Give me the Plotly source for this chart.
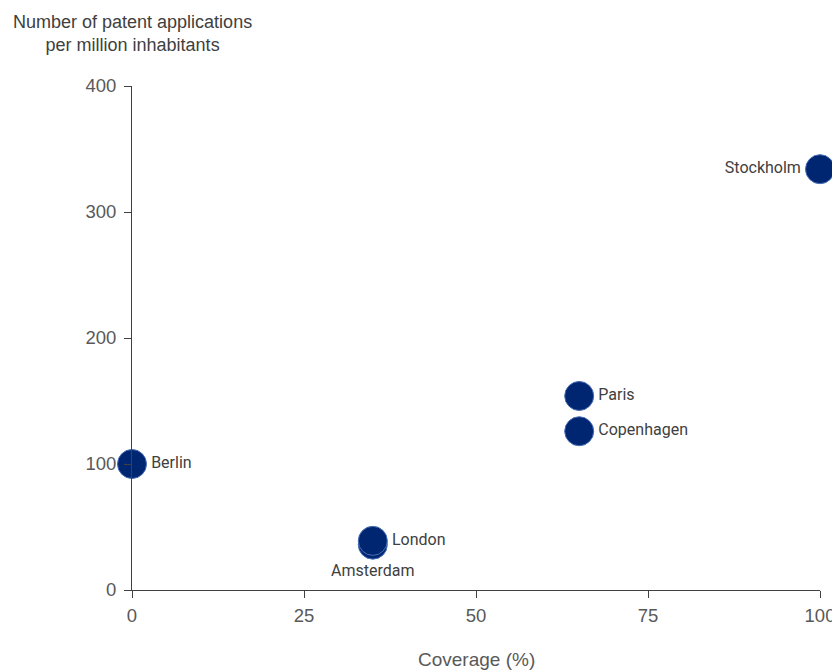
import plotly.graph_objects as go

cities = ["Berlin", "Amsterdam", "London", "Copenhagen", "Paris", "Stockholm"]
coverage = [0, 35, 35, 65, 65, 100]
patents = [100, 36, 39, 126, 154, 334]
label_pos = ["middle right", "bottom center", "middle right", "middle right", "middle right", "middle left"]
x_ticks = [0, 25, 50, 75, 100]
y_ticks = [0, 100, 200, 300, 400]

navy = "#002672"
tick_font = dict(family="Liberation Sans, Arial, sans-serif", size=18.5, color="#595959")

fig = go.Figure()
fig.add_trace(go.Scatter(
    x=coverage, y=patents, mode="markers+text", text=cities,
    textposition=label_pos,
    textfont=dict(family="Roboto, sans-serif", size=16, color="#404040"),
    marker=dict(size=29, color=navy, line=dict(color="#4a6fb5", width=1)),
    cliponaxis=False, showlegend=False,
))

fig.update_layout(
    width=832, height=664,
    margin=dict(l=124, r=20, t=78, b=82),
    plot_bgcolor="white", paper_bgcolor="white",
    xaxis=dict(range=[0, 100], tickvals=x_ticks, showgrid=False, zeroline=False,
               showline=True, linecolor="#404040", linewidth=1,
               ticks="outside", ticklen=7, tickcolor="#404040",
               tickfont=tick_font, automargin=False, ticklabelstandoff=2),
    yaxis=dict(range=[0, 400], tickvals=y_ticks, showgrid=False, zeroline=False,
               showline=True, linecolor="#404040", linewidth=1,
               ticks="outside", ticklen=7, tickcolor="#404040",
               tickfont=tick_font, automargin=False, ticklabelstandoff=4),
    annotations=[
        dict(text="Number of patent applications<br>per million inhabitants",
             xref="paper", yref="paper", x=0, y=1, yshift=29,
             xanchor="center", yanchor="bottom", showarrow=False, align="center",
             font=dict(family="Liberation Sans, Arial, sans-serif", size=18, color="#404040")),
        dict(text="Coverage (%)", xref="paper", yref="paper", x=0.5, y=0, yshift=-82,
             xanchor="center", yanchor="bottom", showarrow=False,
             font=dict(family="Liberation Sans, Arial, sans-serif", size=19, color="#595959")),
    ],
)

fig.write_html("out.html")
